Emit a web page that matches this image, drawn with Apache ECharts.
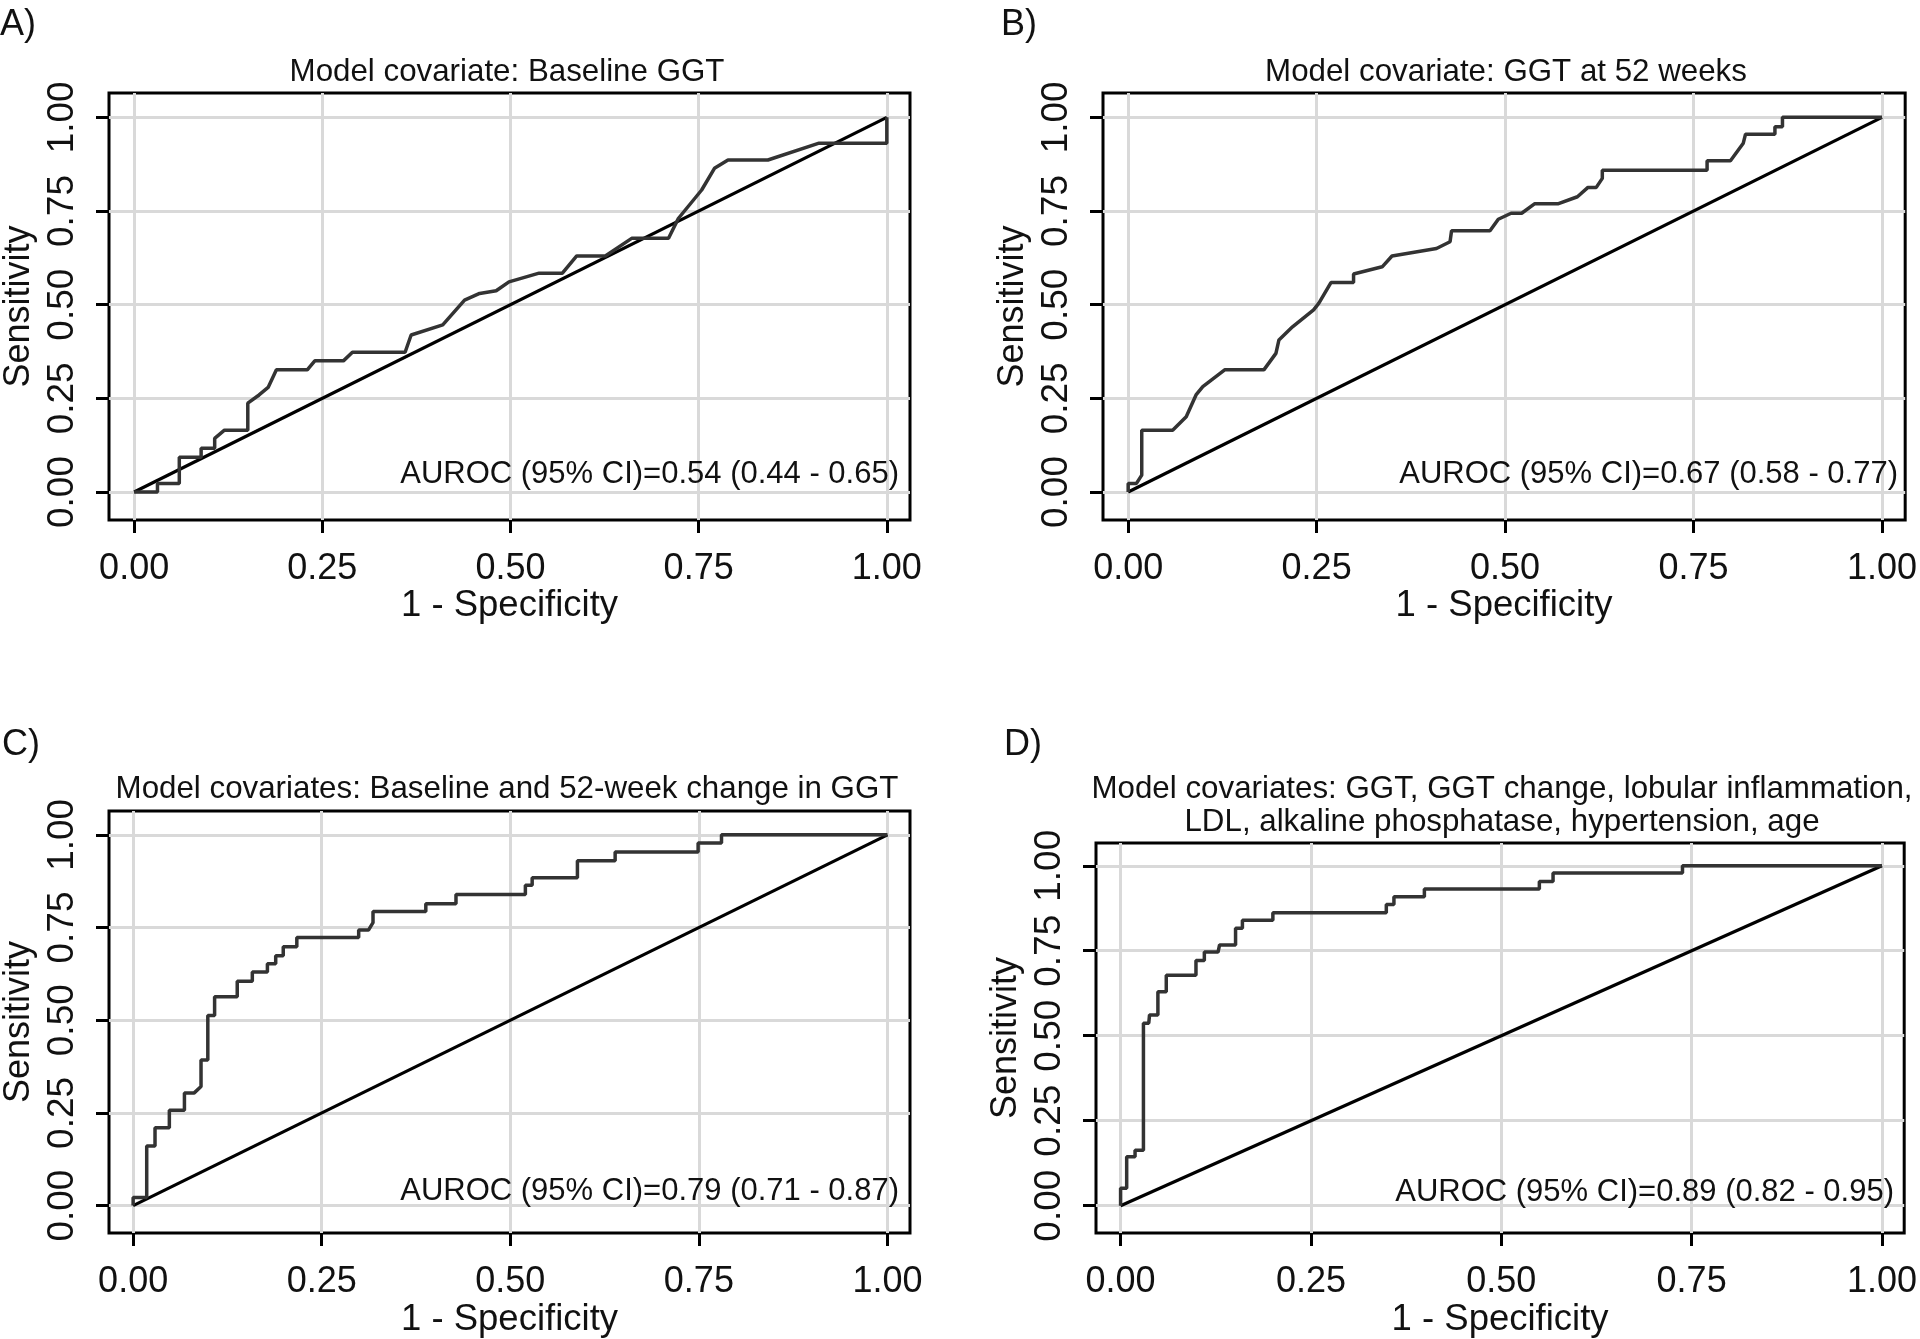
<!DOCTYPE html>
<html><head><meta charset="utf-8">
<script src="https://cdn.jsdelivr.net/npm/echarts@6/dist/echarts.min.js"></script>
<style>html,body{margin:0;padding:0;background:#fff}#c{width:1920px;height:1339px}</style>
</head><body><div id="c"></div>
<script>
// ---- data ----
const tickValues = [0, 0.25, 0.5, 0.75, 1];
const panelLetters = ['A)', 'B)', 'C)', 'D)'];
const panelTitles = [
  'Model covariate: Baseline GGT',
  'Model covariate: GGT at 52 weeks',
  'Model covariates: Baseline and 52-week change in GGT',
  'Model covariates: GGT, GGT change, lobular inflammation,\nLDL, alkaline phosphatase, hypertension, age'
];
const aurocTexts = [
  'AUROC (95% CI)=0.54 (0.44 - 0.65)',
  'AUROC (95% CI)=0.67 (0.58 - 0.77)',
  'AUROC (95% CI)=0.79 (0.71 - 0.87)',
  'AUROC (95% CI)=0.89 (0.82 - 0.95)'
];
const xAxisName = '1 - Specificity';
const yAxisName = 'Sensitivity';
const diagonal = [[0, 0], [1, 1]];
const rocA = [[0,0],[0.031,0],[0.031,0.023],[0.060,0.023],[0.060,0.093],[0.089,0.093],[0.089,0.117],[0.107,0.117],[0.107,0.143],[0.120,0.165],[0.151,0.165],[0.151,0.237],[0.166,0.259],[0.178,0.279],[0.189,0.326],[0.230,0.326],[0.240,0.350],[0.278,0.350],[0.290,0.373],[0.360,0.373],[0.368,0.419],[0.410,0.446],[0.439,0.512],[0.459,0.530],[0.481,0.537],[0.498,0.561],[0.538,0.584],[0.569,0.584],[0.588,0.630],[0.626,0.630],[0.661,0.677],[0.710,0.677],[0.723,0.730],[0.754,0.806],[0.771,0.864],[0.789,0.886],[0.842,0.886],[0.910,0.931],[1.0,0.931],[1.0,1.0]];
const rocB = [[0,0],[0,0.023],[0.011,0.023],[0.018,0.045],[0.018,0.165],[0.059,0.165],[0.077,0.201],[0.090,0.259],[0.099,0.281],[0.128,0.326],[0.180,0.326],[0.196,0.370],[0.200,0.406],[0.218,0.441],[0.246,0.486],[0.253,0.504],[0.269,0.559],[0.299,0.559],[0.299,0.582],[0.337,0.601],[0.350,0.630],[0.409,0.650],[0.427,0.668],[0.429,0.697],[0.480,0.697],[0.491,0.728],[0.508,0.744],[0.522,0.744],[0.539,0.769],[0.570,0.769],[0.596,0.788],[0.610,0.813],[0.621,0.813],[0.629,0.837],[0.629,0.859],[0.768,0.859],[0.768,0.884],[0.799,0.884],[0.816,0.931],[0.819,0.955],[0.858,0.955],[0.858,0.975],[0.868,0.975],[0.868,1.0],[1.0,1.0]];
const rocC = [[0,0],[0,0.022],[0.018,0.022],[0.018,0.161],[0.029,0.161],[0.029,0.210],[0.048,0.210],[0.048,0.257],[0.068,0.257],[0.068,0.304],[0.081,0.304],[0.090,0.321],[0.090,0.393],[0.099,0.393],[0.099,0.513],[0.108,0.513],[0.108,0.563],[0.138,0.563],[0.138,0.605],[0.158,0.605],[0.158,0.630],[0.178,0.630],[0.178,0.652],[0.189,0.652],[0.189,0.674],[0.199,0.674],[0.199,0.698],[0.217,0.698],[0.217,0.723],[0.299,0.723],[0.299,0.743],[0.312,0.743],[0.318,0.763],[0.318,0.793],[0.388,0.793],[0.388,0.814],[0.428,0.814],[0.428,0.839],[0.520,0.839],[0.520,0.864],[0.529,0.864],[0.529,0.884],[0.589,0.884],[0.589,0.930],[0.639,0.930],[0.639,0.954],[0.749,0.954],[0.749,0.978],[0.780,0.978],[0.780,1.0],[1.0,1.0]];
const rocD = [[0,0],[0,0.051],[0.008,0.051],[0.008,0.144],[0.019,0.144],[0.019,0.163],[0.030,0.163],[0.030,0.537],[0.037,0.537],[0.038,0.561],[0.049,0.561],[0.049,0.629],[0.060,0.629],[0.060,0.678],[0.099,0.678],[0.099,0.721],[0.110,0.721],[0.110,0.746],[0.128,0.746],[0.130,0.767],[0.151,0.767],[0.151,0.816],[0.160,0.816],[0.160,0.840],[0.200,0.840],[0.200,0.862],[0.349,0.862],[0.349,0.886],[0.359,0.886],[0.359,0.909],[0.399,0.909],[0.399,0.932],[0.550,0.932],[0.550,0.954],[0.568,0.954],[0.568,0.979],[0.738,0.979],[0.738,1.0],[1.0,1.0]];
const rocCurves = [rocA, rocB, rocC, rocD];

// ---- layout ----
const FONT = "'Liberation Sans', Arial, sans-serif";
const TXT = '#111';
const panels = [
  {left:104, top:93, width:806, height:427, xr:[-0.0334,1.0308], yr:[-0.0747,1.0649], letter:[18,25], title:[507,72], auroc:[899,474]},
  {left:1103, top:93, width:806, height:427, xr:[-0.0334,1.0308], yr:[-0.0747,1.0649], letter:[1019,25], title:[1506,72], auroc:[1898,474]},
  {left:104, top:811, width:806, height:425, xr:[-0.032,1.0299], yr:[-0.0742,1.0643], letter:[21,745], title:[507,789], auroc:[899,1191]},
  {left:1096, top:843, width:812, height:394, xr:[-0.0323,1.0292], yr:[-0.0807,1.067], letter:[1023,745], title:[1502,805.5], auroc:[1894,1192]}
];

const grids = [], xAxes = [], yAxes = [], series = [], graphics = [];
panels.forEach((p, i) => {
  grids.push({left:p.left, top:p.top, width:p.width, height:p.height, show:true,
    borderColor:'#000', borderWidth:3, backgroundColor:'#fff', containLabel:false});
  xAxes.push({type:'value', gridIndex:i, min:p.xr[0], max:p.xr[1], position:'bottom',
    axisLine:{show:false, onZero:false},
    axisTick:{show:true, inside:false, length:13, customValues:tickValues, lineStyle:{color:'#000', width:3}},
    axisLabel:{show:true, customValues:tickValues, margin:31, formatter:v=>v.toFixed(2),
      fontFamily:FONT, fontSize:36, color:TXT},
    splitLine:{show:true, lineStyle:{color:'#d9d9d9', width:3}},
    name:xAxisName, nameLocation:'middle', nameGap:66,
    nameTextStyle:{fontFamily:FONT, fontSize:36.5, color:TXT}});
  yAxes.push({type:'value', gridIndex:i, min:p.yr[0], max:p.yr[1], position:'left',
    axisLine:{show:false, onZero:false},
    axisTick:{show:true, inside:false, length:13, customValues:tickValues, lineStyle:{color:'#000', width:3}},
    axisLabel:{show:true, customValues:tickValues, margin:28, rotate:90, formatter:v=>v.toFixed(2),
      fontFamily:FONT, fontSize:37, color:TXT},
    splitLine:{show:true, lineStyle:{color:'#d9d9d9', width:3}},
    name:yAxisName, nameLocation:'middle', nameGap:72, nameRotate:90,
    nameTextStyle:{fontFamily:FONT, fontSize:36, color:TXT}});
  series.push({type:'line', xAxisIndex:i, yAxisIndex:i, data:diagonal, showSymbol:false,
    lineStyle:{color:'#000', width:3.2}, z:3, silent:true});
  series.push({type:'line', xAxisIndex:i, yAxisIndex:i, data:rocCurves[i], showSymbol:false,
    lineStyle:{color:'#333', width:3.5}, z:4, silent:true});
  graphics.push({type:'text', x:p.letter[0], y:p.letter[1],
    style:{text:panelLetters[i], fontFamily:FONT, fontSize:36, fill:TXT, align:'center', verticalAlign:'middle'}});
  graphics.push({type:'text', x:p.title[0], y:p.title[1],
    style:{text:panelTitles[i], fontFamily:FONT, fontSize:31.3, lineHeight:33, fill:TXT, align:'center', verticalAlign:'middle'}});
  graphics.push({type:'text', x:p.auroc[0], y:p.auroc[1], z:10,
    style:{text:aurocTexts[i], fontFamily:FONT, fontSize:31, fill:TXT, align:'right', verticalAlign:'middle'}});
});

const chart = echarts.init(document.getElementById('c'), null, {renderer:'canvas'});
chart.setOption({
  animation:false,
  backgroundColor:'#fff',
  grid:grids, xAxis:xAxes, yAxis:yAxes, series:series, graphic:graphics
});
</script>
</body></html>
